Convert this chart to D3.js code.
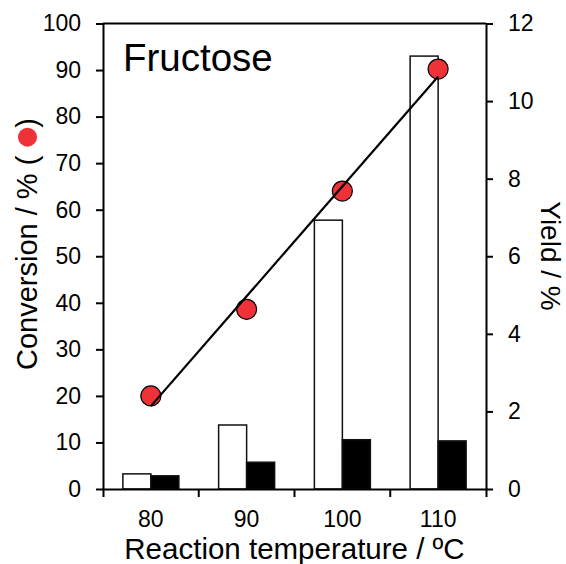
<!DOCTYPE html>
<html>
<head>
<meta charset="utf-8">
<script src="https://cdn.jsdelivr.net/npm/d3@7"></script>
<style>
  body { margin: 0; background: #fff; }
  text { font-family: "Liberation Sans", Arial, sans-serif; fill: #000; }
</style>
</head>
<body>
<svg id="chart" width="566" height="564"></svg>
<script>
const WIDTH = 566
const HEIGHT = 564

// data
const temps = [80, 90, 100, 110]
const conversion = [20.0, 38.6, 64.0, 90.2]   // % (red points, left axis)
const yieldWhite = [0.39, 1.65, 6.93, 11.16]  // % (open bars, right axis)
const yieldBlack = [0.34, 0.69, 1.27, 1.24]   // % (filled bars, right axis)
const convTicks = [0, 10, 20, 30, 40, 50, 60, 70, 80, 90, 100]
const yieldTicks = [0, 2, 4, 6, 8, 10, 12]

const margin = {top: 23.5, right: 80, bottom: 75, left: 103}
const plotW = WIDTH - margin.left - margin.right
const plotH = HEIGHT - margin.top - margin.bottom

const svg = d3.select('#chart')
const g = svg.append('g').attr('transform', `translate(${margin.left},${margin.top})`)

const x = d3.scaleBand().domain(temps).range([0, plotW])
const xSub = d3.scaleBand().domain(['white', 'black']).range([0, x.bandwidth()])
    .paddingInner(0).paddingOuter(0.71)
const yConv = d3.scaleLinear().domain([0, 100]).range([plotH, 0])
const yYield = d3.scaleLinear().domain([0, 12]).range([plotH, 0])

// bars
const barData = temps.flatMap((t, i) => [
    {t: t, key: 'white', v: yieldWhite[i]},
    {t: t, key: 'black', v: yieldBlack[i]}
])
g.append('g').selectAll('rect')
    .data(barData)
    .enter().append('rect')
    .attr('x', d => x(d.t) + xSub(d.key))
    .attr('y', d => yYield(d.v))
    .attr('width', xSub.bandwidth())
    .attr('height', d => plotH - yYield(d.v))
    .attr('fill', d => d.key === 'white' ? '#fff' : '#000')
    .attr('stroke', '#111')
    .attr('stroke-width', 1.5)

// points
const cx = t => x(t) + x.bandwidth() / 2
g.append('g').selectAll('circle')
    .data(temps.map((t, i) => ({t: t, v: conversion[i]})))
    .enter().append('circle')
    .attr('cx', d => cx(d.t))
    .attr('cy', d => yConv(d.v))
    .attr('r', 10)
    .attr('fill', '#ee3237')
    .attr('stroke', '#000')
    .attr('stroke-width', 1.2)

// least-squares trend line through the conversion points
const mx = d3.mean(temps), my = d3.mean(conversion)
const slope = d3.sum(temps, (t, i) => (t - mx) * (conversion[i] - my)) / d3.sum(temps, t => (t - mx) ** 2)
const fit = t => my + slope * (t - mx)
const ends = [temps[0], temps[temps.length - 1]]
g.append('line')
    .attr('x1', cx(ends[0])).attr('y1', yConv(fit(ends[0])))
    .attr('x2', cx(ends[1])).attr('y2', yConv(fit(ends[1])))
    .attr('stroke', '#000')
    .attr('stroke-width', 2.2)

// axes
const styleAxis = sel => {
    sel.selectAll('path, line').attr('stroke', '#000').attr('stroke-width', 2)
    sel.selectAll('text').attr('font-size', 23).attr('font-family', '"Liberation Sans", Arial, sans-serif')
}

g.append('g')
    .call(d3.axisLeft(yConv).tickValues(convTicks).tickSize(7).tickSizeOuter(0).tickPadding(15))
    .call(styleAxis)

g.append('g')
    .attr('transform', `translate(${plotW},0)`)
    .call(d3.axisRight(yYield).tickValues(yieldTicks).tickSize(7).tickSizeOuter(0).tickPadding(15))
    .call(styleAxis)

const xAxis = g.append('g')
    .attr('transform', `translate(0,${plotH})`)
    .call(d3.axisBottom(x).tickSize(0).tickSizeOuter(8).tickPadding(22))
    .call(styleAxis)
// tick marks sit on the category boundaries
xAxis.selectAll('.bnd')
    .data(temps.slice(1))
    .enter().append('line')
    .attr('class', 'bnd')
    .attr('x1', d => x(d)).attr('x2', d => x(d))
    .attr('y1', 0).attr('y2', 8)
    .attr('stroke', '#000').attr('stroke-width', 2)

// top frame
g.append('line')
    .attr('x1', 0).attr('x2', plotW)
    .attr('y1', 0).attr('y2', 0)
    .attr('stroke', '#000').attr('stroke-width', 2)

// titles
g.append('text')
    .attr('x', 20).attr('y', 47.5)
    .attr('font-size', 38.5)
    .text('Fructose')

svg.append('text')
    .attr('x', margin.left + plotW / 2).attr('y', 559)
    .attr('text-anchor', 'middle')
    .attr('font-size', 29.5)
    .text('Reaction temperature / ºC')

const yl = svg.append('g').attr('transform', 'translate(37,370) rotate(-90)')
const ylText = yl.append('text')
    .attr('font-size', 29)
    .text('Conversion / % (')
const L = ylText.node().getComputedTextLength()
yl.append('circle')
    .attr('cx', L + 18.5).attr('cy', -9.5).attr('r', 9.5)
    .attr('fill', '#ee3237')
yl.append('text')
    .attr('x', L + 28)
    .attr('font-size', 29)
    .text(')')

svg.append('text')
    .attr('transform', 'translate(541,256) rotate(90)')
    .attr('text-anchor', 'middle')
    .attr('font-size', 28)
    .text('Yield / %')
</script>
</body>
</html>
